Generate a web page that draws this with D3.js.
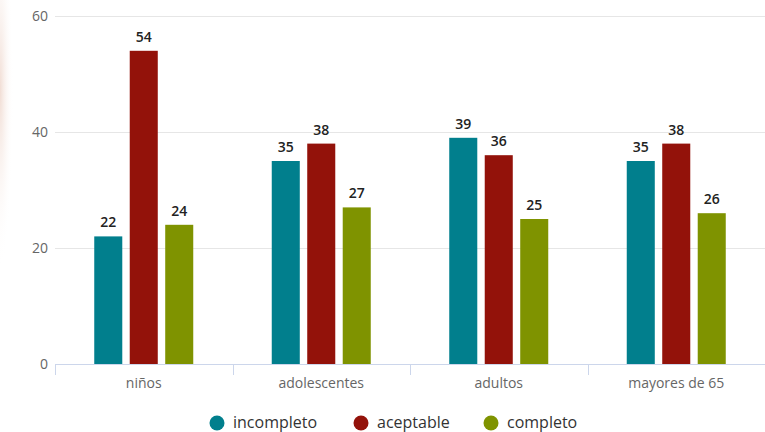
<!DOCTYPE html>
<html>
<head>
<meta charset="utf-8">
<script src="https://cdn.jsdelivr.net/npm/d3@7"></script>
<style>
  body { margin: 0; background: #fff; }
  svg { display: block; font-family: "Open Sans", "Noto Sans", sans-serif; }
</style>
</head>
<body>
<div id="chart"></div>
<script>
// Chart data
var categories = ["niños", "adolescentes", "adultos", "mayores de 65"];
var seriesNames = ["incompleto", "aceptable", "completo"];
var seriesColors = ["#017f8d", "#93120a", "#7f9300"];
var incompleto = [22, 35, 39, 35];
var aceptable = [54, 38, 36, 38];
var completo = [24, 27, 25, 26];
var yTicks = [0, 20, 40, 60];

var seriesValues = [incompleto, aceptable, completo];

var width = 765, height = 432;
var plotLeft = 55, plotRight = 765, plotTop = 16, plotBottom = 364;

var svg = d3.select("#chart").append("svg")
   .attr("width", width)
   .attr("height", height);

// faint background tint on the left edge
var defs = svg.append("defs");
var grad = defs.append("radialGradient").attr("id", "edge")
   .attr("cx", 0).attr("cy", 0.3).attr("r", 0.6);
grad.append("stop").attr("offset", "0%").attr("stop-color", "#f1ddd4");
grad.append("stop").attr("offset", "100%").attr("stop-color", "#ffffff").attr("stop-opacity", 0);
svg.append("rect").attr("x", 0).attr("y", 0).attr("width", 22).attr("height", 300)
   .attr("fill", "url(#edge)");

var x0 = d3.scaleBand().domain(categories).range([plotLeft, plotRight]);
var x1 = d3.scaleBand().domain(seriesNames).range([-49.5, 49.5]).paddingInner(0.21);
var y = d3.scaleLinear().domain([0, 60]).range([plotBottom, plotTop]);

// gridlines
svg.append("g").selectAll("line")
   .data(yTicks.filter(function(d) { return d > 0; }))
   .enter().append("line")
   .attr("x1", plotLeft).attr("x2", plotRight)
   .attr("y1", function(d) { return y(d) + 0.5; })
   .attr("y2", function(d) { return y(d) + 0.5; })
   .attr("stroke", "#e6e6e6").attr("stroke-width", 1);

// y labels
svg.append("g").selectAll("text")
   .data(yTicks)
   .enter().append("text")
   .attr("x", 48)
   .attr("y", function(d) { return y(d) + 5; })
   .attr("text-anchor", "end")
   .attr("font-size", "14px")
   .attr("fill", "#666")
   .text(function(d) { return d; });

// bars
var groups = svg.append("g").selectAll("g")
   .data(categories)
   .enter().append("g")
   .attr("transform", function(d) { return "translate(" + (x0(d) + x0.bandwidth() / 2) + ",0)"; });

groups.selectAll("rect")
   .data(function(d, i) {
      return seriesNames.map(function(s, j) { return {s: s, v: seriesValues[j][i], c: seriesColors[j]}; });
   })
   .enter().append("rect")
   .attr("x", function(d) { return x1(d.s); })
   .attr("width", x1.bandwidth())
   .attr("y", function(d) { return y(d.v); })
   .attr("height", function(d) { return plotBottom - y(d.v); })
   .attr("fill", function(d) { return d.c; });

groups.selectAll("text")
   .data(function(d, i) {
      return seriesNames.map(function(s, j) { return {s: s, v: seriesValues[j][i]}; });
   })
   .enter().append("text")
   .attr("x", function(d) { return x1(d.s) + x1.bandwidth() / 2; })
   .attr("y", function(d) { return y(d.v) - 9; })
   .attr("text-anchor", "middle")
   .attr("font-size", "14px")
   .attr("font-weight", "600")
   .attr("fill", "#222")
   .text(function(d) { return d.v; });

// x axis line and ticks
svg.append("line")
   .attr("x1", plotLeft).attr("x2", plotRight)
   .attr("y1", plotBottom + 0.5).attr("y2", plotBottom + 0.5)
   .attr("stroke", "#ccd6eb");

var boundaries = categories.map(function(c) { return x0(c); });
svg.append("g").selectAll("line")
   .data(boundaries)
   .enter().append("line")
   .attr("x1", function(d) { return Math.round(d) + 0.5; })
   .attr("x2", function(d) { return Math.round(d) + 0.5; })
   .attr("y1", plotBottom).attr("y2", plotBottom + 11)
   .attr("stroke", "#ccd6eb");

svg.append("g").selectAll("text")
   .data(categories)
   .enter().append("text")
   .attr("x", function(d) { return x0(d) + x0.bandwidth() / 2; })
   .attr("y", plotBottom + 24)
   .attr("text-anchor", "middle")
   .attr("font-size", "14px")
   .attr("fill", "#666")
   .text(function(d) { return d; });

// legend
var legendX = [217, 361, 491];
var legend = svg.append("g").selectAll("g")
   .data(seriesNames)
   .enter().append("g")
   .attr("transform", function(d, i) { return "translate(" + legendX[i] + ",423)"; });
legend.append("circle")
   .attr("r", 7.5)
   .attr("fill", function(d, i) { return seriesColors[i]; });
legend.append("text")
   .attr("x", 16)
   .attr("y", 5)
   .attr("font-size", "16px")
   .attr("fill", "#333")
   .text(function(d) { return d; });
</script>
</body>
</html>
